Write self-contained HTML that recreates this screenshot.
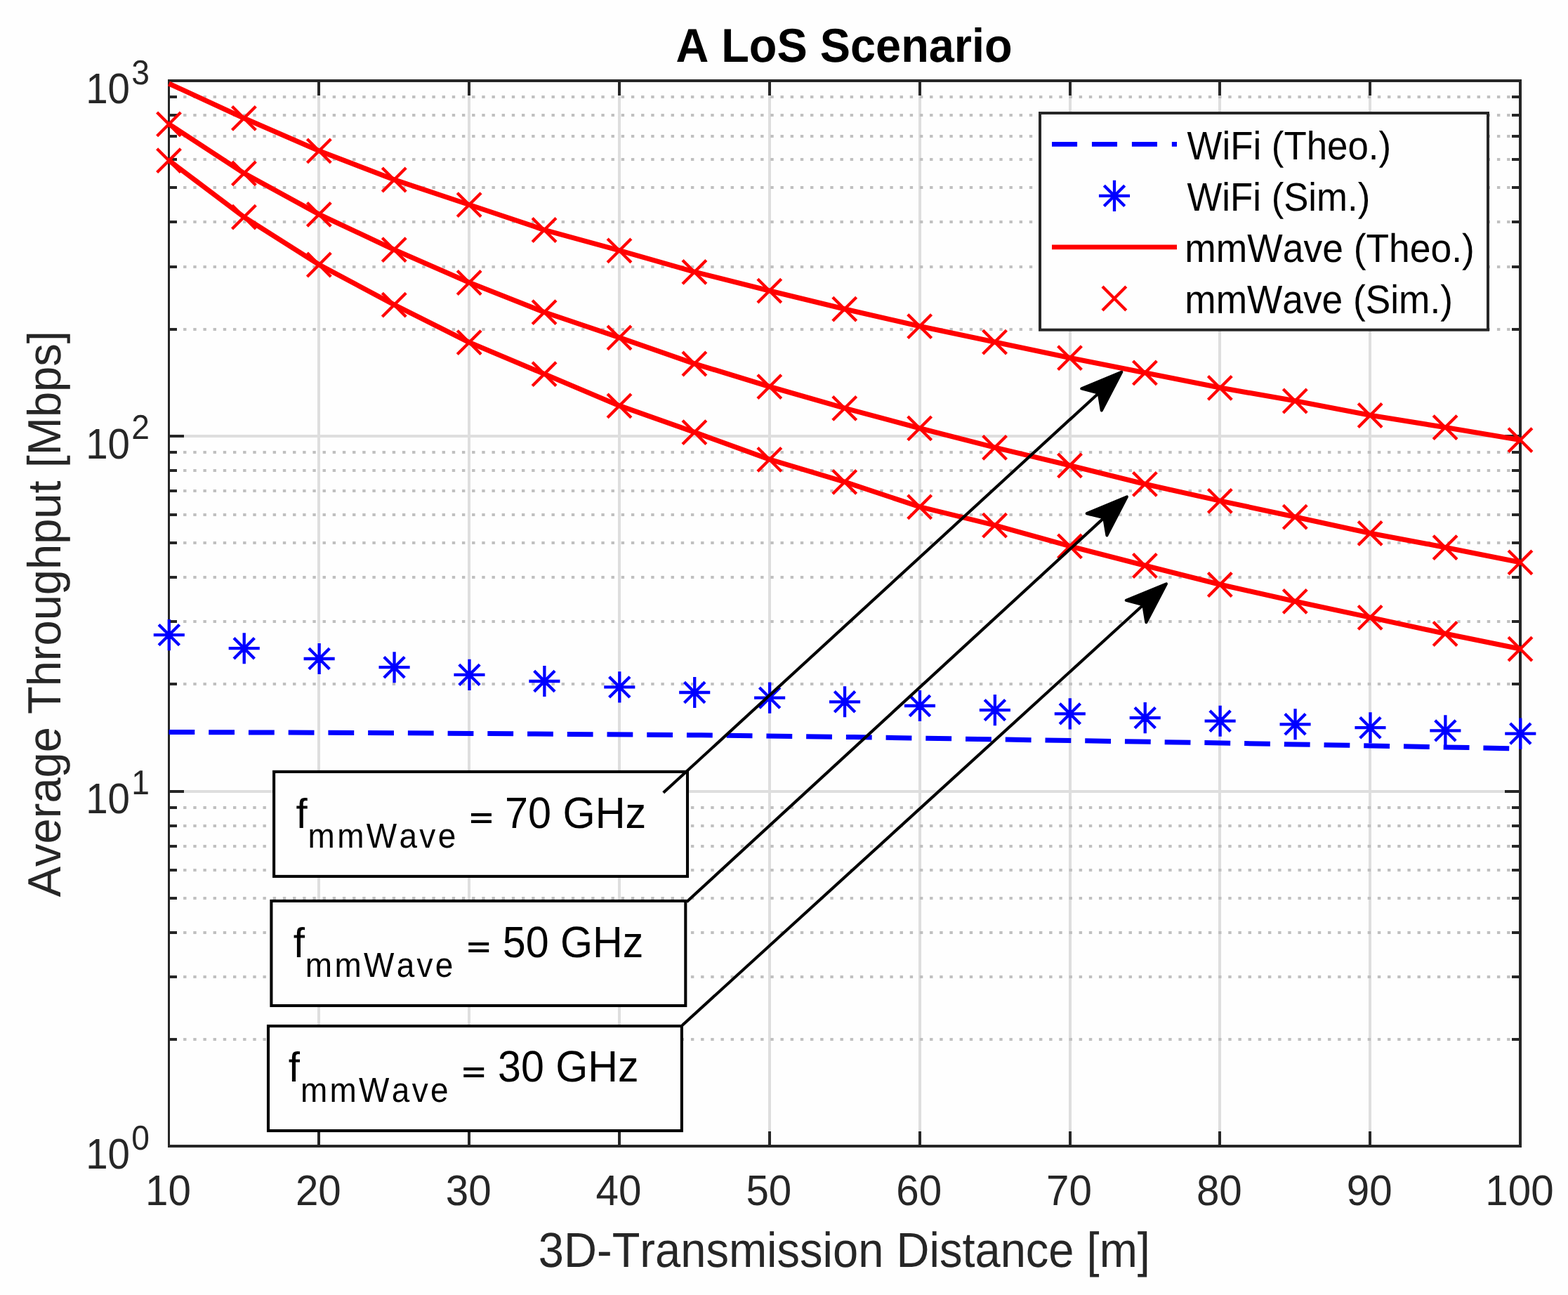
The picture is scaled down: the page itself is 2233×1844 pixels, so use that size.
<!DOCTYPE html>
<html lang="en">
<head>
<meta charset="utf-8">
<title>A LoS Scenario</title>
<style>
html,body{margin:0;padding:0;background:#fefefe;}
body{width:2233px;height:1844px;overflow:hidden;}
svg text{white-space:pre;text-rendering:geometricPrecision;}
</style>
</head>
<body>
<svg width="2233" height="1844" viewBox="0 0 2233 1844" style="display:block">
<rect x="0" y="0" width="2233" height="1844" fill="#fefefe"/>
<g id="grid" fill="none">
<g stroke="#dedede" stroke-width="4">
<line x1="454" y1="115.2" x2="454" y2="1632.2"/>
<line x1="668" y1="115.2" x2="668" y2="1632.2"/>
<line x1="882" y1="115.2" x2="882" y2="1632.2"/>
<line x1="1096" y1="115.2" x2="1096" y2="1632.2"/>
<line x1="1310" y1="115.2" x2="1310" y2="1632.2"/>
<line x1="1524" y1="115.2" x2="1524" y2="1632.2"/>
<line x1="1737" y1="115.2" x2="1737" y2="1632.2"/>
<line x1="1951" y1="115.2" x2="1951" y2="1632.2"/>
<line x1="240.5" y1="1127" x2="2165.0" y2="1127"/>
<line x1="240.5" y1="621" x2="2165.0" y2="621"/>
</g>
<g stroke="#c0c0c0" stroke-width="4" stroke-dasharray="4.4 9.773">
<line x1="261.1" y1="1480" x2="2165.0" y2="1480"/>
<line x1="261.1" y1="1391" x2="2165.0" y2="1391"/>
<line x1="261.1" y1="1328" x2="2165.0" y2="1328"/>
<line x1="261.1" y1="1279" x2="2165.0" y2="1279"/>
<line x1="261.1" y1="1239" x2="2165.0" y2="1239"/>
<line x1="261.1" y1="1205" x2="2165.0" y2="1205"/>
<line x1="261.1" y1="1176" x2="2165.0" y2="1176"/>
<line x1="261.1" y1="1150" x2="2165.0" y2="1150"/>
<line x1="261.1" y1="974" x2="2165.0" y2="974"/>
<line x1="261.1" y1="885" x2="2165.0" y2="885"/>
<line x1="261.1" y1="822" x2="2165.0" y2="822"/>
<line x1="261.1" y1="773" x2="2165.0" y2="773"/>
<line x1="261.1" y1="733" x2="2165.0" y2="733"/>
<line x1="261.1" y1="699" x2="2165.0" y2="699"/>
<line x1="261.1" y1="670" x2="2165.0" y2="670"/>
<line x1="261.1" y1="644" x2="2165.0" y2="644"/>
<line x1="261.1" y1="469" x2="2165.0" y2="469"/>
<line x1="261.1" y1="380" x2="2165.0" y2="380"/>
<line x1="261.1" y1="316" x2="2165.0" y2="316"/>
<line x1="261.1" y1="267" x2="2165.0" y2="267"/>
<line x1="261.1" y1="227" x2="2165.0" y2="227"/>
<line x1="261.1" y1="194" x2="2165.0" y2="194"/>
<line x1="261.1" y1="164" x2="2165.0" y2="164"/>
<line x1="261.1" y1="138" x2="2165.0" y2="138"/>
</g></g>
<g id="axes" stroke="#262626" stroke-width="3.6" fill="none" stroke-linecap="butt">
<path d="M239 115H2167" stroke-width="4"/><path d="M239 1632H2167" stroke-width="4"/><path d="M240.5 113V1634" stroke-width="3"/><path d="M2165 113V1634" stroke-width="4"/>
<g stroke-width="4">
<line x1="454" y1="1632" x2="454" y2="1611"/>
<line x1="454" y1="115" x2="454" y2="136"/>
<line x1="668" y1="1632" x2="668" y2="1611"/>
<line x1="668" y1="115" x2="668" y2="136"/>
<line x1="882" y1="1632" x2="882" y2="1611"/>
<line x1="882" y1="115" x2="882" y2="136"/>
<line x1="1096" y1="1632" x2="1096" y2="1611"/>
<line x1="1096" y1="115" x2="1096" y2="136"/>
<line x1="1310" y1="1632" x2="1310" y2="1611"/>
<line x1="1310" y1="115" x2="1310" y2="136"/>
<line x1="1524" y1="1632" x2="1524" y2="1611"/>
<line x1="1524" y1="115" x2="1524" y2="136"/>
<line x1="1737" y1="1632" x2="1737" y2="1611"/>
<line x1="1737" y1="115" x2="1737" y2="136"/>
<line x1="1951" y1="1632" x2="1951" y2="1611"/>
<line x1="1951" y1="115" x2="1951" y2="136"/>
<line x1="240" y1="1127" x2="262" y2="1127"/>
<line x1="2165" y1="1127" x2="2143" y2="1127"/>
<line x1="240" y1="621" x2="262" y2="621"/>
<line x1="2165" y1="621" x2="2143" y2="621"/>
<line x1="240" y1="1480" x2="252" y2="1480"/>
<line x1="2165" y1="1480" x2="2153" y2="1480"/>
<line x1="240" y1="1391" x2="252" y2="1391"/>
<line x1="2165" y1="1391" x2="2153" y2="1391"/>
<line x1="240" y1="1328" x2="252" y2="1328"/>
<line x1="2165" y1="1328" x2="2153" y2="1328"/>
<line x1="240" y1="1279" x2="252" y2="1279"/>
<line x1="2165" y1="1279" x2="2153" y2="1279"/>
<line x1="240" y1="1239" x2="252" y2="1239"/>
<line x1="2165" y1="1239" x2="2153" y2="1239"/>
<line x1="240" y1="1205" x2="252" y2="1205"/>
<line x1="2165" y1="1205" x2="2153" y2="1205"/>
<line x1="240" y1="1176" x2="252" y2="1176"/>
<line x1="2165" y1="1176" x2="2153" y2="1176"/>
<line x1="240" y1="1150" x2="252" y2="1150"/>
<line x1="2165" y1="1150" x2="2153" y2="1150"/>
<line x1="240" y1="974" x2="252" y2="974"/>
<line x1="2165" y1="974" x2="2153" y2="974"/>
<line x1="240" y1="885" x2="252" y2="885"/>
<line x1="2165" y1="885" x2="2153" y2="885"/>
<line x1="240" y1="822" x2="252" y2="822"/>
<line x1="2165" y1="822" x2="2153" y2="822"/>
<line x1="240" y1="773" x2="252" y2="773"/>
<line x1="2165" y1="773" x2="2153" y2="773"/>
<line x1="240" y1="733" x2="252" y2="733"/>
<line x1="2165" y1="733" x2="2153" y2="733"/>
<line x1="240" y1="699" x2="252" y2="699"/>
<line x1="2165" y1="699" x2="2153" y2="699"/>
<line x1="240" y1="670" x2="252" y2="670"/>
<line x1="2165" y1="670" x2="2153" y2="670"/>
<line x1="240" y1="644" x2="252" y2="644"/>
<line x1="2165" y1="644" x2="2153" y2="644"/>
<line x1="240" y1="469" x2="252" y2="469"/>
<line x1="2165" y1="469" x2="2153" y2="469"/>
<line x1="240" y1="380" x2="252" y2="380"/>
<line x1="2165" y1="380" x2="2153" y2="380"/>
<line x1="240" y1="316" x2="252" y2="316"/>
<line x1="2165" y1="316" x2="2153" y2="316"/>
<line x1="240" y1="267" x2="252" y2="267"/>
<line x1="2165" y1="267" x2="2153" y2="267"/>
<line x1="240" y1="227" x2="252" y2="227"/>
<line x1="2165" y1="227" x2="2153" y2="227"/>
<line x1="240" y1="194" x2="252" y2="194"/>
<line x1="2165" y1="194" x2="2153" y2="194"/>
<line x1="240" y1="164" x2="252" y2="164"/>
<line x1="2165" y1="164" x2="2153" y2="164"/>
<line x1="240" y1="138" x2="252" y2="138"/>
<line x1="2165" y1="138" x2="2153" y2="138"/>
</g></g>
<g id="data" fill="none">
<polyline points="240.5,1042.4 620.0,1044.0 999.0,1046.8 1216.0,1049.6 1433.0,1053.1 1695.0,1057.2 1920.0,1061.3 2148.5,1065.7 2165.0,1066.1" stroke="#0000ff" stroke-width="7" stroke-dasharray="36.8 19.93"/>
<path d="M218.75 904.10L262.85 904.10M240.80 882.05L240.80 926.15M226.10 889.40L255.50 918.80M226.10 918.80L255.50 889.40M325.67 923.20L369.77 923.20M347.72 901.15L347.72 945.25M333.02 908.50L362.42 937.90M333.02 937.90L362.42 908.50M432.58 938.00L476.68 938.00M454.63 915.95L454.63 960.05M439.93 923.30L469.33 952.70M439.93 952.70L469.33 923.30M539.50 950.20L583.60 950.20M561.55 928.15L561.55 972.25M546.85 935.50L576.25 964.90M546.85 964.90L576.25 935.50M646.42 960.90L690.52 960.90M668.47 938.85L668.47 982.95M653.77 946.20L683.17 975.60M653.77 975.60L683.17 946.20M753.33 970.00L797.43 970.00M775.38 947.95L775.38 992.05M760.68 955.30L790.08 984.70M760.68 984.70L790.08 955.30M860.25 978.40L904.35 978.40M882.30 956.35L882.30 1000.45M867.60 963.70L897.00 993.10M867.60 993.10L897.00 963.70M967.17 986.00L1011.27 986.00M989.22 963.95L989.22 1008.05M974.52 971.30L1003.92 1000.70M974.52 1000.70L1003.92 971.30M1074.08 993.60L1118.18 993.60M1096.13 971.55L1096.13 1015.65M1081.43 978.90L1110.83 1008.30M1081.43 1008.30L1110.83 978.90M1181.00 999.30L1225.10 999.30M1203.05 977.25L1203.05 1021.35M1188.35 984.60L1217.75 1014.00M1188.35 1014.00L1217.75 984.60M1287.92 1005.00L1332.02 1005.00M1309.97 982.95L1309.97 1027.05M1295.27 990.30L1324.67 1019.70M1295.27 1019.70L1324.67 990.30M1394.83 1011.10L1438.93 1011.10M1416.88 989.05L1416.88 1033.15M1402.18 996.40L1431.58 1025.80M1402.18 1025.80L1431.58 996.40M1501.75 1016.40L1545.85 1016.40M1523.80 994.35L1523.80 1038.45M1509.10 1001.70L1538.50 1031.10M1509.10 1031.10L1538.50 1001.70M1608.67 1022.10L1652.77 1022.10M1630.72 1000.05L1630.72 1044.15M1616.02 1007.40L1645.42 1036.80M1616.02 1036.80L1645.42 1007.40M1715.58 1026.70L1759.68 1026.70M1737.63 1004.65L1737.63 1048.75M1722.93 1012.00L1752.33 1041.40M1722.93 1041.40L1752.33 1012.00M1822.50 1031.30L1866.60 1031.30M1844.55 1009.25L1844.55 1053.35M1829.85 1016.60L1859.25 1046.00M1829.85 1046.00L1859.25 1016.60M1929.42 1036.20L1973.52 1036.20M1951.47 1014.15L1951.47 1058.25M1936.77 1021.50L1966.17 1050.90M1936.77 1050.90L1966.17 1021.50M2036.33 1040.40L2080.43 1040.40M2058.38 1018.35L2058.38 1062.45M2043.68 1025.70L2073.08 1055.10M2043.68 1055.10L2073.08 1025.70M2143.25 1044.60L2187.35 1044.60M2165.30 1022.55L2165.30 1066.65M2150.60 1029.90L2180.00 1059.30M2150.60 1059.30L2180.00 1029.90" stroke="#0000ff" stroke-width="4.3"/>
<polyline points="240.50,228.40 347.42,309.00 454.33,376.80 561.25,433.90 668.17,487.50 775.08,532.50 882.00,577.70 988.92,615.40 1095.83,654.20 1202.75,686.20 1309.67,721.60 1416.58,747.90 1523.50,777.60 1630.42,805.30 1737.33,832.30 1844.25,856.20 1951.17,879.10 2058.08,902.30 2165.00,924.00" stroke="#ff0000" stroke-width="7.1" stroke-linejoin="round"/>
<polyline points="240.50,176.60 347.42,246.60 454.33,305.20 561.25,355.50 668.17,402.30 775.08,444.50 882.00,480.70 988.92,517.80 1095.83,550.50 1202.75,581.20 1309.67,609.70 1416.58,637.10 1523.50,662.70 1630.42,689.20 1737.33,713.10 1844.25,736.00 1951.17,759.20 2058.08,779.40 2165.00,800.70" stroke="#ff0000" stroke-width="7.1" stroke-linejoin="round"/>
<polyline points="240.50,119.00 347.42,168.20 454.33,214.70 561.25,255.80 668.17,291.50 775.08,327.30 882.00,356.60 988.92,387.10 1095.83,414.00 1202.75,440.00 1309.67,464.50 1416.58,487.00 1523.50,509.50 1630.42,530.70 1737.33,552.10 1844.25,570.80 1951.17,591.30 2058.08,608.50 2165.00,626.40" stroke="#ff0000" stroke-width="7.1" stroke-linejoin="round"/>
<path d="M223.60 211.70L257.40 245.50M223.60 245.50L257.40 211.70M330.52 292.30L364.32 326.10M330.52 326.10L364.32 292.30M437.43 360.10L471.23 393.90M437.43 393.90L471.23 360.10M544.35 417.20L578.15 451.00M544.35 451.00L578.15 417.20M651.27 470.80L685.07 504.60M651.27 504.60L685.07 470.80M758.18 515.80L791.98 549.60M758.18 549.60L791.98 515.80M865.10 561.00L898.90 594.80M865.10 594.80L898.90 561.00M972.02 598.70L1005.82 632.50M972.02 632.50L1005.82 598.70M1078.93 637.50L1112.73 671.30M1078.93 671.30L1112.73 637.50M1185.85 669.50L1219.65 703.30M1185.85 703.30L1219.65 669.50M1292.77 704.90L1326.57 738.70M1292.77 738.70L1326.57 704.90M1399.68 731.20L1433.48 765.00M1399.68 765.00L1433.48 731.20M1506.60 760.90L1540.40 794.70M1506.60 794.70L1540.40 760.90M1613.52 788.60L1647.32 822.40M1613.52 822.40L1647.32 788.60M1720.43 815.60L1754.23 849.40M1720.43 849.40L1754.23 815.60M1827.35 839.50L1861.15 873.30M1827.35 873.30L1861.15 839.50M1934.27 862.40L1968.07 896.20M1934.27 896.20L1968.07 862.40M2041.18 885.60L2074.98 919.40M2041.18 919.40L2074.98 885.60M2148.10 907.30L2181.90 941.10M2148.10 941.10L2181.90 907.30" stroke="#ff0000" stroke-width="4.3"/>
<path d="M223.60 159.90L257.40 193.70M223.60 193.70L257.40 159.90M330.52 229.90L364.32 263.70M330.52 263.70L364.32 229.90M437.43 288.50L471.23 322.30M437.43 322.30L471.23 288.50M544.35 338.80L578.15 372.60M544.35 372.60L578.15 338.80M651.27 385.60L685.07 419.40M651.27 419.40L685.07 385.60M758.18 427.80L791.98 461.60M758.18 461.60L791.98 427.80M865.10 464.00L898.90 497.80M865.10 497.80L898.90 464.00M972.02 501.10L1005.82 534.90M972.02 534.90L1005.82 501.10M1078.93 533.80L1112.73 567.60M1078.93 567.60L1112.73 533.80M1185.85 564.50L1219.65 598.30M1185.85 598.30L1219.65 564.50M1292.77 593.00L1326.57 626.80M1292.77 626.80L1326.57 593.00M1399.68 620.40L1433.48 654.20M1399.68 654.20L1433.48 620.40M1506.60 646.00L1540.40 679.80M1506.60 679.80L1540.40 646.00M1613.52 672.50L1647.32 706.30M1613.52 706.30L1647.32 672.50M1720.43 696.40L1754.23 730.20M1720.43 730.20L1754.23 696.40M1827.35 719.30L1861.15 753.10M1827.35 753.10L1861.15 719.30M1934.27 742.50L1968.07 776.30M1934.27 776.30L1968.07 742.50M2041.18 762.70L2074.98 796.50M2041.18 796.50L2074.98 762.70M2148.10 784.00L2181.90 817.80M2148.10 817.80L2181.90 784.00" stroke="#ff0000" stroke-width="4.3"/>
<path d="M330.52 151.50L364.32 185.30M330.52 185.30L364.32 151.50M437.43 198.00L471.23 231.80M437.43 231.80L471.23 198.00M544.35 239.10L578.15 272.90M544.35 272.90L578.15 239.10M651.27 274.80L685.07 308.60M651.27 308.60L685.07 274.80M758.18 310.60L791.98 344.40M758.18 344.40L791.98 310.60M865.10 339.90L898.90 373.70M865.10 373.70L898.90 339.90M972.02 370.40L1005.82 404.20M972.02 404.20L1005.82 370.40M1078.93 397.30L1112.73 431.10M1078.93 431.10L1112.73 397.30M1185.85 423.30L1219.65 457.10M1185.85 457.10L1219.65 423.30M1292.77 447.80L1326.57 481.60M1292.77 481.60L1326.57 447.80M1399.68 470.30L1433.48 504.10M1399.68 504.10L1433.48 470.30M1506.60 492.80L1540.40 526.60M1506.60 526.60L1540.40 492.80M1613.52 514.00L1647.32 547.80M1613.52 547.80L1647.32 514.00M1720.43 535.40L1754.23 569.20M1720.43 569.20L1754.23 535.40M1827.35 554.10L1861.15 587.90M1827.35 587.90L1861.15 554.10M1934.27 574.60L1968.07 608.40M1934.27 608.40L1968.07 574.60M2041.18 591.80L2074.98 625.60M2041.18 625.60L2074.98 591.80M2148.10 609.70L2181.90 643.50M2148.10 643.50L2181.90 609.70" stroke="#ff0000" stroke-width="4.3"/>
</g>
<g id="ticklabels" font-family="'Liberation Sans', sans-serif" style="font-kerning:none">
<text transform="translate(239.50 1715.80) scale(1.0000 1.0470)" font-size="58.30" fill="#262626" text-anchor="middle">10</text>
<text transform="translate(453.33 1715.80) scale(1.0000 1.0470)" font-size="58.30" fill="#262626" text-anchor="middle">20</text>
<text transform="translate(667.17 1715.80) scale(1.0000 1.0470)" font-size="58.30" fill="#262626" text-anchor="middle">30</text>
<text transform="translate(881.00 1715.80) scale(1.0000 1.0470)" font-size="58.30" fill="#262626" text-anchor="middle">40</text>
<text transform="translate(1094.83 1715.80) scale(1.0000 1.0470)" font-size="58.30" fill="#262626" text-anchor="middle">50</text>
<text transform="translate(1308.67 1715.80) scale(1.0000 1.0470)" font-size="58.30" fill="#262626" text-anchor="middle">60</text>
<text transform="translate(1522.50 1715.80) scale(1.0000 1.0470)" font-size="58.30" fill="#262626" text-anchor="middle">70</text>
<text transform="translate(1736.33 1715.80) scale(1.0000 1.0470)" font-size="58.30" fill="#262626" text-anchor="middle">80</text>
<text transform="translate(1950.17 1715.80) scale(1.0000 1.0470)" font-size="58.30" fill="#262626" text-anchor="middle">90</text>
<text transform="translate(2164.00 1715.80) scale(1.0000 1.0470)" font-size="58.30" fill="#262626" text-anchor="middle">100</text>
<text transform="translate(185.00 1663.90) scale(1.0000 1.0805)" font-size="56.50" fill="#262626" text-anchor="end">10</text>
<text transform="translate(187.20 1636.50) scale(1.0000 1.0600)" font-size="46.20" fill="#262626">0</text>
<text transform="translate(185.00 1158.23) scale(1.0000 1.0805)" font-size="56.50" fill="#262626" text-anchor="end">10</text>
<text transform="translate(187.20 1130.83) scale(1.0000 1.0600)" font-size="46.20" fill="#262626">1</text>
<text transform="translate(185.00 652.57) scale(1.0000 1.0805)" font-size="56.50" fill="#262626" text-anchor="end">10</text>
<text transform="translate(187.20 625.17) scale(1.0000 1.0600)" font-size="46.20" fill="#262626">2</text>
<text transform="translate(185.00 146.90) scale(1.0000 1.0805)" font-size="56.50" fill="#262626" text-anchor="end">10</text>
<text transform="translate(187.20 119.50) scale(1.0000 1.0600)" font-size="46.20" fill="#262626">3</text>
</g>
<g id="labels" font-family="'Liberation Sans', sans-serif" style="font-kerning:none">
<text transform="translate(962.38 87.50) scale(1.0000 1.0421)" font-size="64.86" fill="#000" font-weight="bold">A LoS Scenario</text>
<text transform="translate(766.82 1804.40) scale(1.0000 1.0748)" font-size="65.05" fill="#262626">3D-Transmission Distance [m]</text>
<text transform="translate(85.80 1277.33) rotate(-90) scale(1.0000 1.0214)" font-size="65.04" fill="#262626">Average Throughput [Mbps]</text>
</g>
<g id="legend">
<rect x="1481" y="161" width="638" height="308.7" fill="#fefefe" stroke="#262626" stroke-width="4"/>
<line x1="1498" y1="205.4" x2="1676" y2="205.4" stroke="#0000ff" stroke-width="6.9" stroke-dasharray="36.1 20.85"/>
<path d="M1564.95 278.90L1609.05 278.90M1587.00 256.85L1587.00 300.95M1572.30 264.20L1601.70 293.60M1572.30 293.60L1601.70 264.20" stroke="#0000ff" stroke-width="4.3" fill="none"/>
<line x1="1498" y1="351.9" x2="1676" y2="351.9" stroke="#ff0000" stroke-width="6.9"/>
<path d="M1570.00 408.10L1603.80 441.90M1570.00 441.90L1603.80 408.10" stroke="#ff0000" stroke-width="4.3" fill="none"/>
<g font-family="'Liberation Sans', sans-serif" style="font-kerning:none">
<text transform="translate(1690.57 227.05) scale(1.0000 1.0742)" font-size="52.84" fill="#000">WiFi (Theo.)</text>
<text transform="translate(1690.57 299.95) scale(1.0000 1.0734)" font-size="52.74" fill="#000">WiFi (Sim.)</text>
<text transform="translate(1687.35 373.00) scale(1.0000 1.0639)" font-size="53.42" fill="#000">mmWave (Theo.)</text>
<text transform="translate(1687.36 446.00) scale(1.0000 1.0671)" font-size="53.26" fill="#000">mmWave (Sim.)</text>
</g></g>
<g id="annot" font-family="'Liberation Sans', sans-serif" style="font-kerning:none">
<rect x="390.1" y="1098.9" width="588.9" height="149.0" fill="#fefefe" stroke="#000" stroke-width="4.1"/>
<text transform="translate(421.45 1178.75) scale(1.0000 1.0204)" font-size="58.30" fill="#000">f</text>
<text transform="translate(438.60 1207.20) scale(1.0000 1.0725)" font-size="45.94" fill="#000" letter-spacing="3.33">mmWave</text>
<text stroke="#000" stroke-width="2" transform="translate(669.29 1178.15) scale(1.0000 0.7119)" font-size="55.57" fill="#000">=</text>
<text transform="translate(718.96 1178.75) scale(1.0000 1.0538)" font-size="59.38" fill="#000">70 GHz</text>
<rect x="386.4" y="1282.9" width="589.9" height="149.1" fill="#fefefe" stroke="#000" stroke-width="4.1"/>
<text transform="translate(417.65 1362.65) scale(1.0000 1.0204)" font-size="58.30" fill="#000">f</text>
<text transform="translate(434.80 1391.10) scale(1.0000 1.0725)" font-size="45.94" fill="#000" letter-spacing="3.33">mmWave</text>
<text stroke="#000" stroke-width="2" transform="translate(665.49 1362.05) scale(1.0000 0.7119)" font-size="55.57" fill="#000">=</text>
<text transform="translate(715.83 1362.65) scale(1.0000 1.0574)" font-size="59.18" fill="#000">50 GHz</text>
<rect x="382.0" y="1461.0" width="588.9" height="149.1" fill="#fefefe" stroke="#000" stroke-width="4.1"/>
<text transform="translate(410.75 1540.15) scale(1.0000 1.0204)" font-size="58.30" fill="#000">f</text>
<text transform="translate(427.90 1568.60) scale(1.0000 1.0725)" font-size="45.94" fill="#000" letter-spacing="3.33">mmWave</text>
<text stroke="#000" stroke-width="2" transform="translate(658.59 1539.55) scale(1.0000 0.7119)" font-size="55.57" fill="#000">=</text>
<text transform="translate(709.05 1540.15) scale(1.0000 1.0580)" font-size="59.14" fill="#000">30 GHz</text>
<line x1="944.7" y1="1128.8" x2="1564.7" y2="559.7" stroke="#000" stroke-width="4.2"/>
<polygon points="1597.4,529.7 1568.8,584.6 1564.7,559.7 1540.2,553.4" fill="#000" stroke="#000" stroke-width="4" stroke-linejoin="round"/>
<line x1="977.9" y1="1284.2" x2="1572.2" y2="737.4" stroke="#000" stroke-width="4.2"/>
<polygon points="1604.9,707.4 1576.4,762.4 1572.2,737.4 1547.7,731.2" fill="#000" stroke="#000" stroke-width="4" stroke-linejoin="round"/>
<line x1="971.6" y1="1460" x2="1628.2" y2="861.3" stroke="#000" stroke-width="4.2"/>
<polygon points="1661.0,831.4 1632.3,886.2 1628.2,861.3 1603.7,854.9" fill="#000" stroke="#000" stroke-width="4" stroke-linejoin="round"/>
</g>
</svg>
</body>
</html>
